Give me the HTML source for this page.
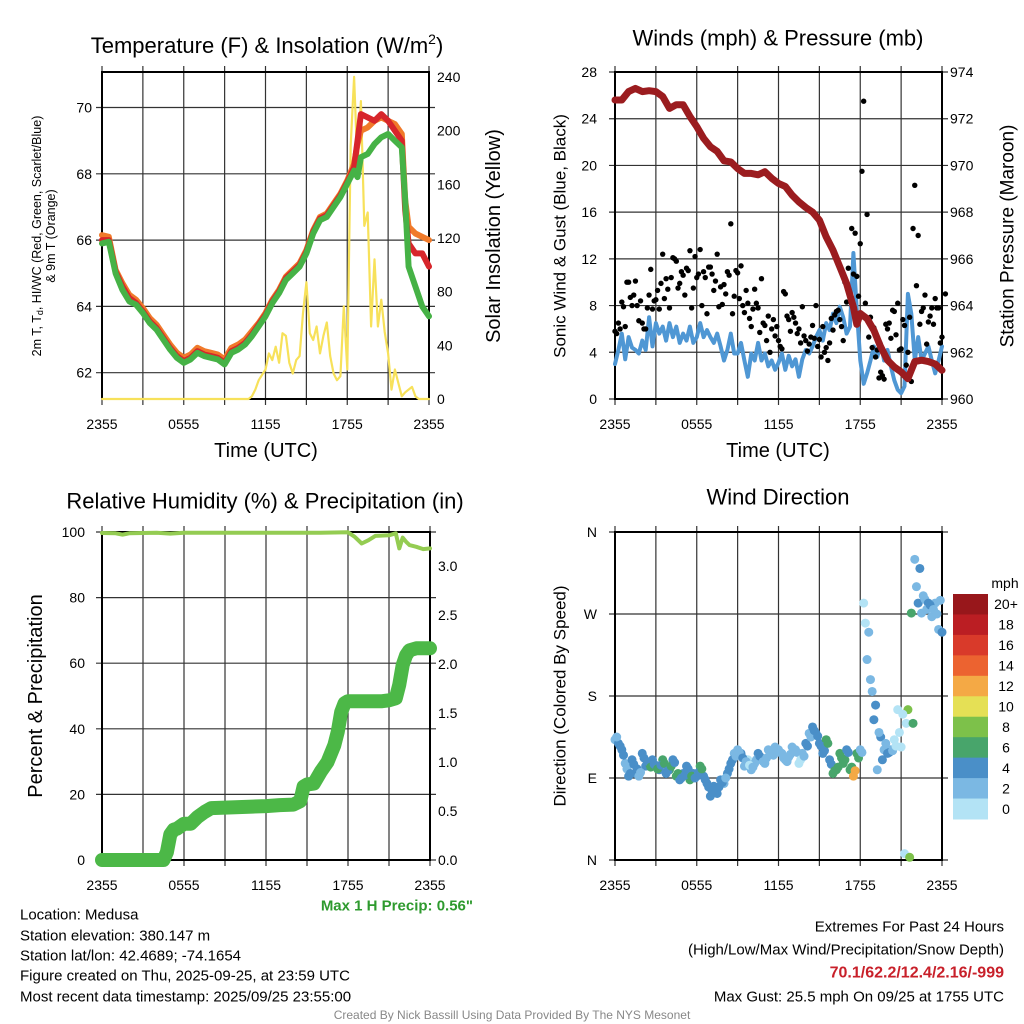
<!DOCTYPE html>
<html><head><meta charset="utf-8"><style>
html,body{margin:0;padding:0;background:#fff;}
svg{display:block;font-family:"Liberation Sans",sans-serif;}
</style></head><body>
<svg id="c" width="1024" height="1024" viewBox="0 0 1024 1024" xmlns="http://www.w3.org/2000/svg"></svg>
<script>
// ---------- DATA ----------
const hours30 = [0,0.5,1,1.5,2,2.5,3,3.5,4,4.5,5,5.5,6,6.5,7,7.5,8,8.5,9,9.5,10,10.5,11,11.5,12,12.5,13,13.5,14,14.5,15,15.5,16,16.5,17,17.5,18,18.5,18.75,19,19.5,20,20.5,21,21.5,22,22.25,22.5,23,23.5,24];
const tempGreen = [65.9,65.95,65.0,64.5,64.15,64.05,63.8,63.5,63.3,63.0,62.7,62.45,62.3,62.4,62.6,62.5,62.45,62.4,62.25,62.6,62.7,62.85,63.1,63.4,63.7,64.1,64.4,64.8,65.0,65.2,65.6,66.2,66.6,66.7,67.0,67.3,67.7,68.1,67.9,68.5,68.6,68.9,69.1,69.2,69.0,68.8,67.2,65.2,64.6,64.0,63.7];
const tempRed = [66.0,66.0,65.05,64.6,64.25,64.1,63.85,63.55,63.35,63.05,62.75,62.5,62.35,62.45,62.65,62.55,62.5,62.45,62.3,62.65,62.75,62.9,63.15,63.45,63.75,64.15,64.45,64.85,65.05,65.25,65.65,66.25,66.65,66.75,67.05,67.35,67.75,68.2,69.0,69.8,69.7,69.6,69.8,69.6,69.3,69.0,66.9,65.9,65.6,65.6,65.2];
const tempOrange = [66.15,66.1,65.1,64.7,64.35,64.2,63.95,63.65,63.45,63.15,62.85,62.6,62.45,62.55,62.75,62.65,62.6,62.55,62.4,62.75,62.85,63.0,63.25,63.5,63.8,64.2,64.5,64.9,65.1,65.3,65.7,66.3,66.7,66.8,67.1,67.4,67.8,68.3,68.9,69.3,69.4,69.6,69.7,69.6,69.5,69.2,67.2,66.4,66.2,66.1,66.0];
const solar = [0,0,0,0,0,0,0,0,0,0,0,0,0,0,0,0,0,0,0,0,0,0,0,0,0,0,0,0,0,0,0,0,0,0,0,0,0,0,0,0,0,0,0,0,2,7,14,18,22,34,29,39,27,49,47,27,19,29,32,64,87,49,44,54,34,47,57,32,19,14,17,69,22,189,240,172,222,129,139,54,104,54,74,50,34,7,22,12,2,5,7,9,2,0,0,0,0];
const windAvg = [3.0,4.2,5.6,3.4,5.3,4.4,4.2,3.9,5.0,4.2,7.0,4.5,6.5,5.6,6.2,5.0,6.5,5.3,6.2,4.8,5.6,5.0,6.2,4.8,5.3,6.5,5.3,5.9,5.3,4.8,5.6,4.5,3.3,4.2,5.6,3.9,3.9,4.8,3.3,1.9,3.9,3.3,4.8,3.3,3.9,2.8,3.3,2.5,3.1,3.9,2.5,3.7,2.8,3.4,1.9,3.4,4.2,3.9,4.5,5.3,5.9,5.0,6.5,5.9,7.3,6.5,7.9,7.0,5.6,6.2,12.5,7.6,3.3,1.3,2.2,3.3,4.5,3.6,4.8,3.3,4.2,2.8,1.6,0.8,0.5,1.1,9.0,7.3,3.3,5.3,3.3,3.9,4.5,3.3,2.2,3.3,4.5];
const gust1 = [5.8,6.5,8.3,6.2,10.0,8.0,10.1,6.7,6.5,6.0,8.9,7.7,8.5,7.7,12.4,10.3,7.8,12.1,11.8,9.9,10.6,11.2,12.7,9.5,10.4,12.8,10.9,7.3,11.3,9.3,12.4,9.6,9.8,10.9,15.0,8.8,10.8,11.4,7.4,8.2,6.2,9.4,7.8,10.3,6.3,7.1,6.0,5.4,5.0,4.3,9.0,6.8,7.4,6.5,6.0,7.9,5.0,4.7,6.3,8.0,5.1,6.2,4.4,4.8,5.9,7.5,6.8,5.0,8.3,8.4,10.7,10.5,13.3,25.5,15.8,7.0,6.1,4.2,2.3,1.7,6.0,5.2,7.5,8.2,4.3,6.3,4.0,1.5,18.3,14.0,7.5,8.9,6.6,7.8,8.6,7.8,5.3,9.0];
const gust2 = [5.6,6.0,7.9,10.0,8.7,8.9,8.0,8.4,6.0,7.8,11.1,8.4,9.3,9.9,8.6,9.4,10.4,12.0,9.5,10.9,8.9,11.0,7.8,12.2,10.7,8.0,10.4,11.3,10.7,10.1,7.9,8.1,9.0,10.6,7.3,11.0,8.6,8.0,9.3,6.9,7.7,8.2,5.7,6.5,5.0,4.0,6.8,6.2,4.5,9.2,7.1,5.8,7.0,5.6,4.8,5.4,4.1,5.3,5.2,4.5,3.6,4.0,3.3,6.9,7.2,7.6,6.2,10.0,11.2,14.6,14.2,8.8,19.5,8.2,5.3,4.4,3.6,1.8,2.0,6.4,6.5,7.6,5.5,4.2,6.8,2.9,7.0,14.6,9.7,6.4,7.8,4.7,7.1,6.4,7.8,4.8];
const presHours = [0,0.5,1,1.5,2,2.5,3,3.5,4,4.5,5,5.5,6,6.5,7,7.5,8,8.5,9,9.5,10,10.5,11,11.5,12,12.5,13,13.5,14,14.5,15,15.5,16,16.5,17,17.5,17.75,18,18.5,19,19.5,20,20.5,21,21.5,22,22.5,23,23.5,24];
const pressure = [972.8,972.8,973.16,973.3,973.16,973.2,973.16,972.95,972.44,972.6,972.6,972.1,971.66,971.16,970.8,970.6,970.2,970.15,969.87,969.66,969.66,969.6,969.73,969.45,969.23,969.1,968.73,968.44,968.2,968.0,967.66,966.94,966.37,965.66,964.94,963.94,963.2,963.66,963.44,962.94,962.23,961.66,961.37,961.16,960.87,961.6,961.66,961.6,961.5,961.23];
const rhHours = [0,1,1.5,2,3,4,5,6,8,10,12,14,16,18,18.5,19,19.5,20,21,21.5,21.75,22,22.25,22.5,23,23.5,24];
const rh = [99.7,99.6,99.2,99.6,99.7,99.8,99.5,99.8,99.8,99.8,99.8,99.8,99.8,99.9,98.5,96.5,97.5,98.8,99.0,99.6,95.0,98.3,97.0,96.0,95.5,94.8,95.0];
const precipHours = [0,4.5,4.75,5,5.25,5.5,6,6.5,7,7.5,8,9,10,11,12,13,14,14.5,14.75,15,15.5,16,16.5,17,17.25,17.5,17.75,18,19,20,20.5,21,21.5,21.75,22,22.25,22.5,23,24];
const precip = [0,0,0.08,0.26,0.31,0.32,0.37,0.37,0.44,0.49,0.53,0.535,0.54,0.545,0.55,0.56,0.565,0.6,0.75,0.77,0.78,0.9,1.0,1.17,1.31,1.51,1.6,1.62,1.62,1.62,1.62,1.63,1.65,1.79,1.99,2.09,2.14,2.16,2.16];
const windDir = [132,128,121,106,92,110,95,92,117,103,106,110,103,99,110,95,99,110,92,88,95,103,88,95,92,103,92,84,70,81,73,88,84,95,106,117,121,117,103,110,99,106,117,110,106,121,117,124,121,117,110,113,124,121,106,117,128,139,146,139,128,117,132,110,95,99,117,106,121,99,92,117,121,282,220,198,154,99,135,121,117,121,132,165,124,7,165,271,330,282,271,286,282,267,282,253,250];
const windDir2 = [135,125,115,100,95,105,100,96,112,108,102,105,100,104,106,98,103,107,95,90,93,100,92,90,96,100,88,80,76,78,80,85,90,100,110,114,118,112,108,104,102,110,114,108,112,118,115,120,118,112,108,116,120,118,110,114,125,135,142,136,125,120,128,105,98,102,112,110,118,102,98,112,118,260,250,185,170,140,110,128,118,120,125,140,160,150,3,150,300,320,290,275,280,275,270,285];
const tempTicks = [62,64,66,68,70];
const solarTicks = [0,40,80,120,160,200,240];
const windTicks = [0,4,8,12,16,20,24,28];
const presTicks = [960,962,964,966,968,970,972,974];
const rhTicks = [0,20,40,60,80,100];
const precipTicks = ["0.0","0.5","1.0","1.5","2.0","2.5","3.0"];
const dirTicks = [0,90,180,270,360];
const dirLabels = ["N","E","S","W","N"];
const timeTicks = [0,6,12,18,24];
const timeLabels = ["2355","0555","1155","1755","2355"];
const speedLabels = ["20+","18","16","14","12","10","8","6","4","2","0"];
const speedColors = ["#98171b","#bb1e23","#d93a2a","#ec6330","#f4a945","#e5e055","#7dc14a","#48a56b","#4a8fc8","#7bb8e3","#b3e3f5"];

// ---------- HELPERS ----------
const NS="http://www.w3.org/2000/svg";
const svg=document.getElementById('c');
function mk(tag,attrs,parent){const e=document.createElementNS(NS,tag);for(const k in attrs)e.setAttribute(k,attrs[k]);(parent||svg).appendChild(e);return e;}
function txt(s,x,y,size,anchor,parent,extra){const e=mk('text',Object.assign({x:x,y:y,'font-size':size,'text-anchor':anchor||'middle','dominant-baseline':'central',fill:'#000'},extra||{}),parent);e.textContent=s;return e;}
function xs(P,t){return P.x0+(t/24)*(P.x1-P.x0);}
const P1={x0:102,x1:429,y0:72,y1:399}, P2={x0:615,x1:942,y0:72,y1:399}, P3={x0:102,x1:430,y0:532,y1:860}, P4={x0:615,x1:942,y0:532,y1:860};
function yT(v){return 372.7-(v-62)*33.15;}
function yS(v){return 399-v*1.342;}
function yW(v){return 399-v*(327/28);}
function yP(p){return 399-(p-960)*(327/14);}
function yH(v){return 860-v*3.28;}
function yR(v){return 860-v*98;}
function yD(d){return 860-d*(328/360);}
function grid(P,ys,g){
  for(let h=0;h<=24;h+=3){const x=xs(P,h);const l=mk('line',{x1:x,x2:x,y1:P.y0-6,y2:P.y1+6,stroke:'#333','stroke-width':1.2},g);}
  ys.forEach(y=>{const l=mk('line',{x1:P.x0-6,x2:P.x1+6,y1:y,y2:y,stroke:'#333','stroke-width':1.2},g);});
  const f=mk('rect',{x:P.x0,y:P.y0,width:P.x1-P.x0,height:P.y1-P.y0,fill:'none',stroke:'#000','stroke-width':2},g);
  timeTicks.forEach((t,i)=>{const e=txt(timeLabels[i],xs(P,t),P.y1+25,14,'middle',g);});
}
function poly(pts,attrs,g,name){const p=mk('polyline',Object.assign({points:pts.map(a=>a[0].toFixed(1)+','+a[1].toFixed(1)).join(' '),fill:'none','stroke-linejoin':'round','stroke-linecap':'round'},attrs),g);return p;}
function speedColor(v){let i=Math.floor(v/2);if(i>10)i=10;return speedColors[10-i];}

// ---------- PANEL 1 ----------
const g1=mk('g',{});
grid(P1,tempTicks.map(yT),g1);
tempTicks.forEach(v=>{const e=txt(String(v),92,yT(v),14,'end',g1);});
solarTicks.forEach(v=>{const e=txt(String(v),437,yS(v),14,'start',g1);});
poly(solar.map((v,i)=>[xs(P1,i*0.25),yS(v)]),{stroke:'#f7e15a','stroke-width':2.2},g1,'solar-line');
poly(hours30.map((h,i)=>[xs(P1,h),yT(tempOrange[i])]),{stroke:'#f07a2a','stroke-width':6},g1,'temp-9m-line');
poly(hours30.map((h,i)=>[xs(P1,h),yT(tempRed[i])]),{stroke:'#d7262b','stroke-width':6},g1,'temp-2m-line');
poly(hours30.map((h,i)=>[xs(P1,h),yT(tempGreen[i])]),{stroke:'#46b246','stroke-width':6},g1,'dewpoint-line');
let e;
e=mk('text',{x:267,y:53,'font-size':22,'text-anchor':'middle',fill:'#000'},g1);
e.innerHTML='Temperature (F) &amp; Insolation (W/m<tspan font-size="14" dy="-9">2</tspan><tspan dy="9">)</tspan>';


e=txt('Time (UTC)',266,451,20,'middle',g1);
e=txt('Solar Insolation (Yellow)',0,0,20,'middle',g1,{transform:'translate(494,236) rotate(-90)'});
e=mk('text',{x:0,y:0,'font-size':12.5,'text-anchor':'middle','dominant-baseline':'central',fill:'#000',transform:'translate(37,236) rotate(-90)'},g1);
e.innerHTML='2m T, T<tspan font-size="9" dy="3">d</tspan><tspan dy="-3">, HI/WC (Red, Green, Scarlet/Blue)</tspan>';


e=txt('& 9m T (Orange)',0,0,12.5,'middle',g1,{transform:'translate(51,236) rotate(-90)'});

// ---------- PANEL 2 ----------
const g2=mk('g',{});
grid(P2,windTicks.map(yW),g2);
windTicks.forEach(v=>{const e=txt(String(v),597,yW(v),14,'end',g2);});
presTicks.forEach(v=>{const e=txt(String(v),950,yP(v),14,'start',g2);});
poly(windAvg.map((v,i)=>[xs(P2,i*0.25),yW(v)]),{stroke:'#4f97d4','stroke-width':4},g2,'sonic-wind-line');
gust1.forEach((v,i)=>{const c=mk('circle',{cx:xs(P2,i*0.25),cy:yW(v),r:2.7,fill:'#000'},g2);});
gust2.forEach((v,i)=>{const t=i*0.25+0.125;if(t>24)return;const c=mk('circle',{cx:xs(P2,t),cy:yW(v),r:2.7,fill:'#000'},g2);});
poly(presHours.map((h,i)=>[xs(P2,h),yP(pressure[i])]),{stroke:'#9b1c1f','stroke-width':7},g2,'pressure-line');
e=txt('Winds (mph) & Pressure (mb)',778,38,22,'middle',g2);
e=txt('Time (UTC)',778,451,20,'middle',g2);
e=txt('Sonic Wind & Gust (Blue, Black)',0,0,17,'middle',g2,{transform:'translate(560,236) rotate(-90)'});
e=txt('Station Pressure (Maroon)',0,0,19,'middle',g2,{transform:'translate(1008,236) rotate(-90)'});

// ---------- PANEL 3 ----------
const g3=mk('g',{});
grid(P3,rhTicks.map(yH),g3);
rhTicks.forEach(v=>{const e=txt(String(v),85,yH(v),14,'end',g3);});
precipTicks.forEach(v=>{const e=txt(v,438,yR(parseFloat(v)),14,'start',g3);});
poly(rhHours.map((h,i)=>[xs(P3,h),yH(rh[i])]),{stroke:'#94cc52','stroke-width':4},g3,'rh-line');
poly(precipHours.map((h,i)=>[xs(P3,h),yR(precip[i])]),{stroke:'#4cb847','stroke-width':14},g3,'precip-line');
e=txt('Relative Humidity (%) & Precipitation (in)',265,501,22,'middle',g3);
e=txt('Percent & Precipitation',0,0,20,'middle',g3,{transform:'translate(36,696) rotate(-90)'});
e=txt('Max 1 H Precip: 0.56"',473,906,15,'end',g3,{fill:'#2e9a2e','font-weight':'bold'});

// ---------- PANEL 4 ----------
const g4=mk('g',{});
grid(P4,dirTicks.map(yD),g4);
dirTicks.forEach((d,i)=>{const e=txt(dirLabels[i],597,yD(d),14,'end',g4);});
windDir.forEach((d,i)=>{const t=i*0.25;if(t>24)return;const c=mk('circle',{cx:xs(P4,t),cy:yD(d),r:4.5,fill:speedColor(windAvg[i])},g4);});
windDir2.forEach((d,i)=>{const t=i*0.25+0.125;if(t>24)return;const c=mk('circle',{cx:xs(P4,t),cy:yD(d),r:4.5,fill:speedColor(windAvg[i])},g4);});
e=txt('Wind Direction',778,497,22,'middle',g4);
e=txt('Direction (Colored By Speed)',0,0,17,'middle',g4,{transform:'translate(560,696) rotate(-90)'});
const cb=mk('g',{},g4);
const bh=(819-594)/11;
speedColors.forEach((c,i)=>{const r=mk('rect',{x:953,y:594+i*bh,width:35,height:bh+0.5,fill:c},cb);
 const t=txt(speedLabels[i],1006,594+i*bh+bh/2,14,'middle',cb);});
e=txt('mph',1005,583,14,'middle',cb);

// ---------- FOOTER TEXT ----------
const info=["Location: Medusa","Station elevation: 380.147 m","Station lat/lon: 42.4689; -74.1654","Figure created on Thu, 2025-09-25, at 23:59 UTC","Most recent data timestamp: 2025/09/25 23:55:00"];
const infoY=[915,936,956,976,997];
info.forEach((s,i)=>{const e=txt(s,20,infoY[i],15,'start');});
e=txt('Extremes For Past 24 Hours',1004,927,15,'end');
e=txt('(High/Low/Max Wind/Precipitation/Snow Depth)',1004,950,15,'end');
e=txt('70.1/62.2/12.4/2.16/-999',1004,973,16,'end',null,{fill:'#c8202a','font-weight':'bold'});
e=txt('Max Gust: 25.5 mph On 09/25 at 1755 UTC',1004,997,15,'end');
e=txt('Created By Nick Bassill Using Data Provided By The NYS Mesonet',512,1015,12,'middle',null,{fill:'#888'});
</script>
</body></html>
